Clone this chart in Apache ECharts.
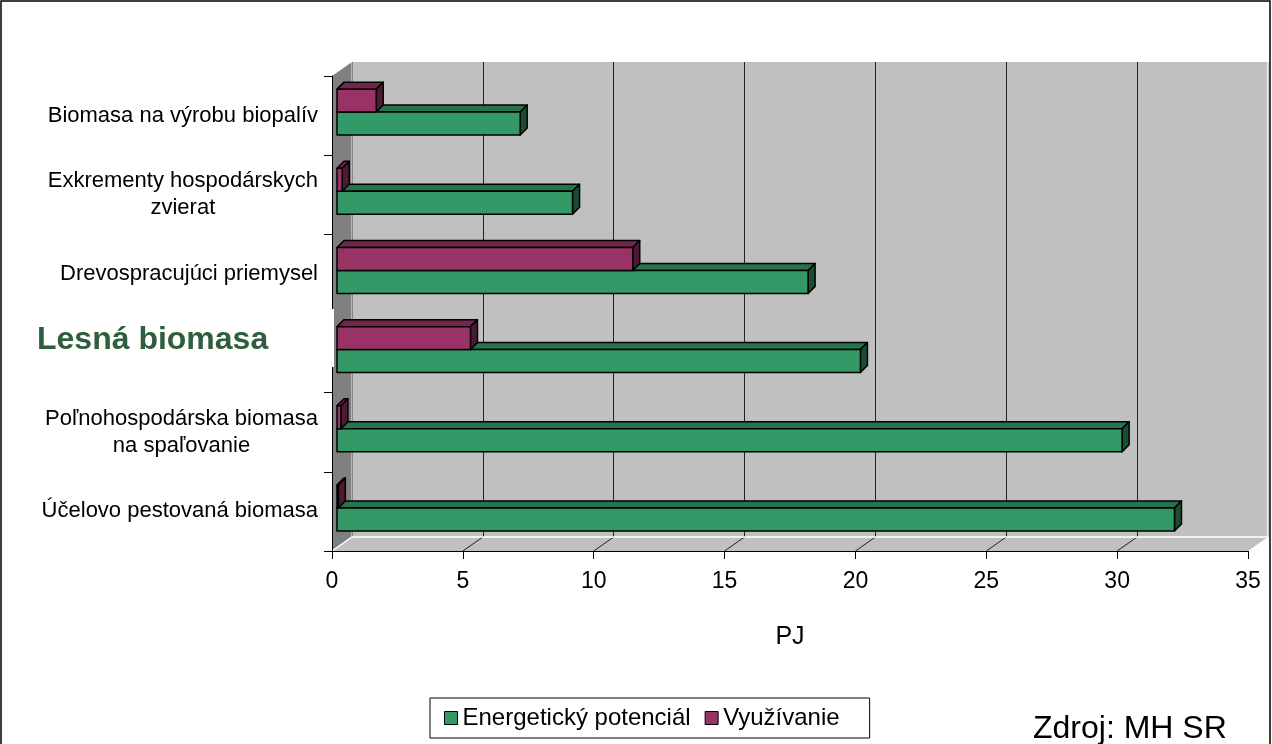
<!DOCTYPE html>
<html lang="sk">
<head>
<meta charset="UTF-8" />
<title>Biomasa – energetický potenciál a využívanie</title>
<style>
  html, body { margin: 0; padding: 0; background: #fff; }
  #chart { width: 1272px; height: 744px; }
</style>
</head>
<body>
<div id="chart"></div>

<script src="https://cdn.jsdelivr.net/npm/echarts@6/dist/echarts.min.js"></script>
<script>
// data (PJ), top to bottom
const categories = [
  'Biomasa na výrobu biopalív',
  'Exkrementy hospodárskych\nzvierat',
  'Drevospracujúci priemysel',
  'Lesná biomasa',
  'Poľnohospodárska biomasa\nna spaľovanie',
  'Účelovo pestovaná biomasa'
];
const potencial = [7, 9, 18, 20, 30, 32];
const vyuzivanie = [1.5, 0.2, 11.3, 5.1, 0.15, 0.05];
const seriesNames = ['Energetický potenciál', 'Využívanie'];
const xMax = 35, xStep = 5;

const FONT = '"Liberation Sans", Arial, sans-serif';
const DX = 20, DY = -14;        // wall depth
const BAR_DX = 5, BAR_DY = -3.5; // bar position inside the depth
const D = 7;                     // bar thickness (top / side faces)

const chart = echarts.init(document.getElementById('chart'));

// 3D-looking bar: front face + top + right side
function barRenderer(slot, face, top, side) {
  return function (params, api) {
    const c = api.value(1);
    const base = api.coord([0, c]);
    const end = api.coord([api.value(0), c]);
    const h = api.size([0, 1])[1] * 0.29;
    const x0 = base[0] + BAR_DX, x1 = end[0] + BAR_DX;
    const mid = base[1] + BAR_DY;
    const yt = slot === 0 ? mid - h : mid;
    const yb = yt + h;
    const st = (fill) => ({ fill: fill, stroke: '#000', lineWidth: 1.5, lineJoin: 'round' });
    return {
      type: 'group',
      children: [
        { type: 'polygon', shape: { points: [[x0, yt], [x1, yt], [x1 + D, yt - D], [x0 + D, yt - D]] }, style: st(top) },
        { type: 'polygon', shape: { points: [[x1, yt], [x1 + D, yt - D], [x1 + D, yb - D], [x1, yb]] }, style: st(side) },
        { type: 'rect', shape: { x: x0, y: yt, width: x1 - x0, height: h }, style: st(face) }
      ]
    };
  };
}

// left wall, floor and floor grid lines
function renderWalls(params, api) {
  const cs = params.coordSys;
  const L = cs.x, T = cs.y, R = cs.x + cs.width, B = cs.y + cs.height;
  const children = [
    { type: 'polygon', shape: { points: [[L, T], [L + DX, T + DY], [L + DX, B + DY], [L, B]] }, style: { fill: '#808080' } },
    { type: 'polygon', shape: { points: [[L, B], [L + DX, B + DY], [R + DX, B + DY], [R, B]] }, style: { fill: '#c0c0c0' } }
  ];
  for (let v = xStep; v < xMax; v += xStep) {
    const x = api.coord([v, 0])[0];
    children.push({ type: 'line', shape: { x1: x, y1: B, x2: x + DX, y2: B + DY }, style: { stroke: '#222', lineWidth: 1 } });
  }
  children.push({ type: 'polyline', shape: { points: [[L, B], [L + DX, B + DY], [R + DX, B + DY], [R + DX, T + DY]] },
    style: { stroke: '#fff', lineWidth: 1.5, fill: 'none' } });
  children.push({ type: 'line', shape: { x1: L + DX, y1: T + DY, x2: L + DX, y2: B + DY }, style: { stroke: '#e8e8e8', lineWidth: 1 } });
  return { type: 'group', children: children };
}

const option = {
  animation: false,
  backgroundColor: '#fff',
  grid: [
    { left: 332, top: 76, width: 916, height: 475 },                        // front plane
    { left: 352, top: 62, width: 916, height: 475, show: true,              // back wall
      backgroundColor: '#c0c0c0', borderWidth: 0 }
  ],
  xAxis: [
    {
      gridIndex: 0, type: 'value', min: 0, max: xMax, interval: xStep, z: 5,
      name: 'PJ', nameLocation: 'middle', nameGap: 74,
      nameTextStyle: { fontSize: 25, color: '#000', fontFamily: FONT },
      axisLine: { show: true, lineStyle: { color: '#000', width: 1 } },
      axisTick: { show: true, length: 8, lineStyle: { color: '#000' } },
      axisLabel: { fontSize: 23, color: '#000', fontFamily: FONT, margin: 19 },
      splitLine: { show: false }
    },
    {
      gridIndex: 1, type: 'value', min: 0, max: xMax, interval: xStep,
      axisLine: { show: false }, axisTick: { show: false }, axisLabel: { show: false },
      splitLine: { show: true, lineStyle: { color: '#222', width: 1 } }
    }
  ],
  yAxis: [
    {
      gridIndex: 0, type: 'category', data: categories, inverse: true, z: 5,
      axisLine: { show: true, lineStyle: { color: '#000', width: 1 } },
      axisTick: { show: true, length: 8, lineStyle: { color: '#000' } },
      axisLabel: {
        margin: 14, color: '#000', fontSize: 22, lineHeight: 27, fontFamily: FONT,
        formatter: (val) => val === categories[3] ? '' :
          val.split('\n').map(s => '{c|' + s + '}').join('\n'),
        rich: { c: { align: 'center', fontSize: 22, lineHeight: 27, fontFamily: FONT, color: '#000' } }
      }
    },
    { gridIndex: 1, type: 'value', show: false }
  ],
  legend: {
    left: 430, top: 698,
    orient: 'horizontal',
    borderColor: '#000', borderWidth: 1, padding: [8, 30, 8, 14],
    itemWidth: 13, itemHeight: 13, itemGap: 14,
    textStyle: { fontSize: 24, color: '#000', fontFamily: FONT },
    data: [
      { name: seriesNames[0], icon: 'rect', itemStyle: { color: '#339966', borderColor: '#000', borderWidth: 1 } },
      { name: seriesNames[1], icon: 'rect', itemStyle: { color: '#993366', borderColor: '#000', borderWidth: 1 } }
    ]
  },
  series: [
    {
      name: 'walls', type: 'custom', xAxisIndex: 0, yAxisIndex: 0, z: 1, silent: true,
      renderItem: renderWalls, data: [[0, 0]]
    },
    {
      name: seriesNames[0], type: 'custom', xAxisIndex: 0, yAxisIndex: 0, z: 2,
      itemStyle: { color: '#339966' },
      renderItem: barRenderer(1, '#339966', '#26734d', '#1a4d33'),
      encode: { x: 0, y: 1 },
      data: potencial.map((v, i) => [v, i])
    },
    {
      name: seriesNames[1], type: 'custom', xAxisIndex: 0, yAxisIndex: 0, z: 2,
      itemStyle: { color: '#993366' },
      renderItem: barRenderer(0, '#993366', '#73264d', '#4d1a33'),
      encode: { x: 0, y: 1 },
      data: vyuzivanie.map((v, i) => [v, i])
    }
  ],
  graphic: [
    // outer frame
    { type: 'polyline', z: 20, silent: true,
      shape: { points: [[1, 760], [1, 1], [1270, 1], [1270, 760]] },
      style: { fill: 'none', stroke: '#000', lineWidth: 1.5 } },
    // text box "Lesná biomasa" covering the axis
    { type: 'rect', z: 10, silent: true, shape: { x: 3, y: 309, width: 331, height: 58 },
      style: { fill: '#fff' } },
    { type: 'text', z: 11, x: 37, y: 340,
      style: { text: categories[3], fontSize: 32, fontWeight: 'bold', fontFamily: FONT,
               fill: '#2f5e3c', align: 'left', verticalAlign: 'middle' } },
    { type: 'text', z: 11, x: 1033, y: 729,
      style: { text: 'Zdroj: MH SR', fontSize: 32, fontFamily: FONT, fill: '#000',
               align: 'left', verticalAlign: 'middle' } }
  ]
};

chart.setOption(option);
</script>
</body>
</html>
